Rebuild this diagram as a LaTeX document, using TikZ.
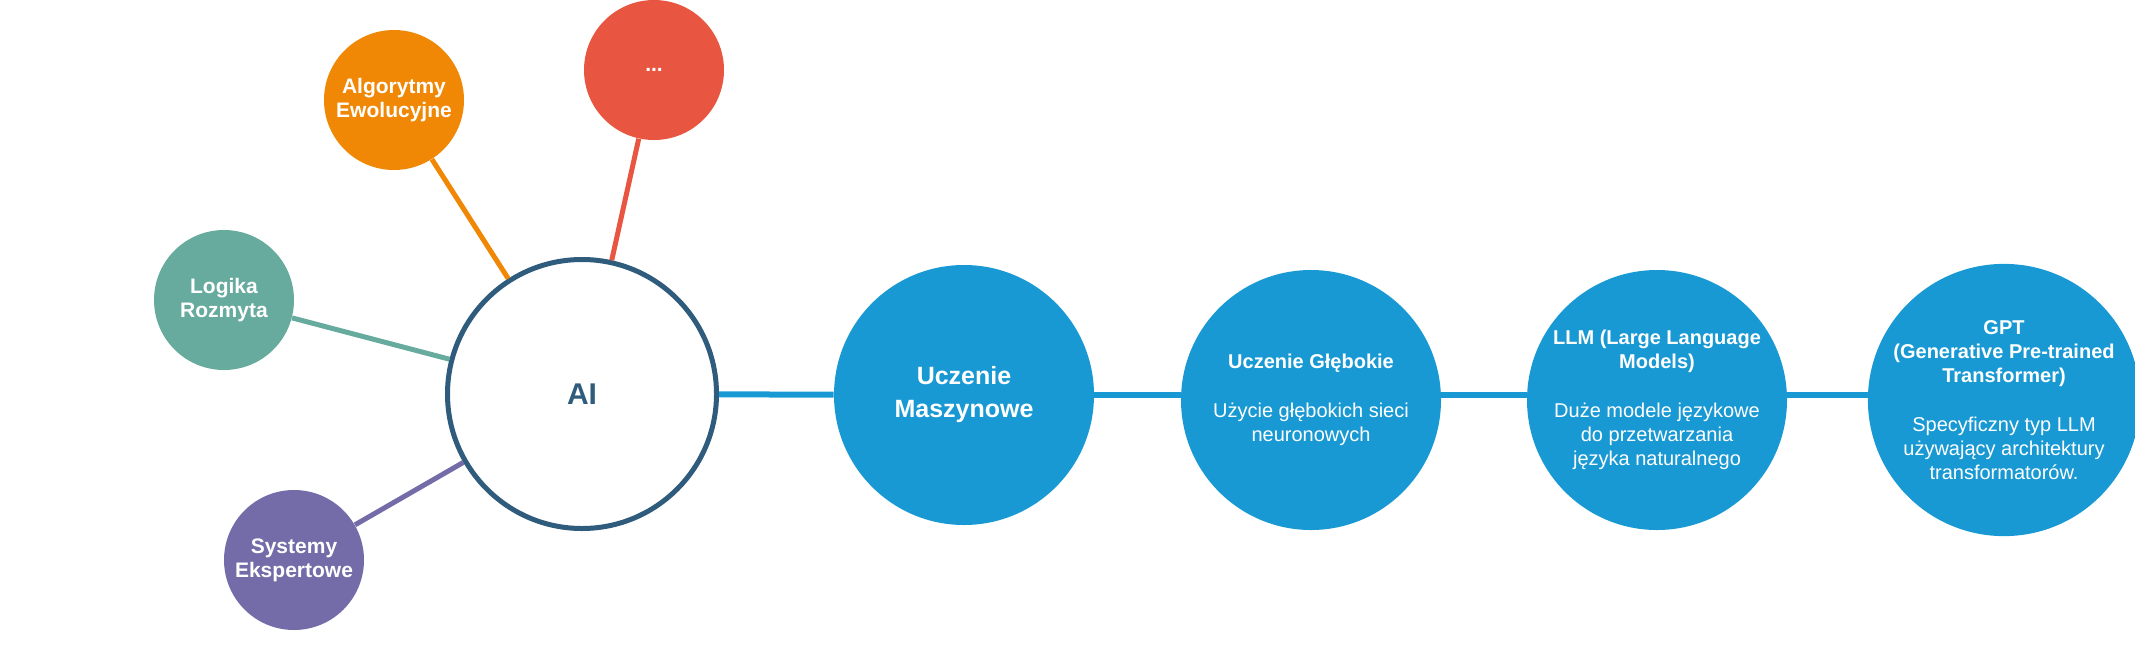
\documentclass[tikz,border=0pt]{standalone}
\usepackage{fontspec}
\setmainfont{Liberation Sans}
\definecolor{myblue}{HTML}{1899D3}
\definecolor{mynavy}{HTML}{2F5B7C}
\definecolor{myorange}{HTML}{F08705}
\definecolor{myred}{HTML}{E85642}
\definecolor{myteal}{HTML}{67AB9F}
\definecolor{mypurple}{HTML}{736CA8}

\begin{document}
\begin{tikzpicture}[x=0.5pt,y=-0.5pt]
\useasboundingbox (0,0) rectangle (2135,665);
\tikzset{SmallStyle/.style ={shape=circle, inner sep=0, minimum size=70pt, fill=#1, text=white, align=center, font=\fontsize{10.5}{12}\selectfont\bfseries}}
\tikzset{BigStyle/.style ={shape=circle, inner sep=0, minimum size=130pt, fill=myblue, text=white, align=center, font=\fontsize{10}{12}\selectfont}}
\node[shape=circle, inner sep=0, minimum size=134.5pt, draw=mynavy, line width=2.5pt, text=mynavy, font=\fontsize{15}{18}\selectfont\bfseries] (ai) at (582,394) {AI};
\node[SmallStyle=myorange] (evo) at (394,100) {Algorytmy\\Ewolucyjne};
\node[SmallStyle=myred] (etc) at (654,70) {...};
\node[SmallStyle=myteal] (fuzzy) at (224,300) {Logika\\Rozmyta};
\node[SmallStyle=mypurple] (expert) at (294,560) {Systemy\\Ekspertowe};
\node[BigStyle, font=\fontsize{12.5}{16.5}\selectfont\bfseries] (ml) at (964,395) {Uczenie\\Maszynowe};
\node[BigStyle] (dl) at (1311,400) {\textbf{Uczenie Głębokie}\\[12.5pt] Użycie głębokich sieci\\neuronowych};
\node[BigStyle] (llm) at (1657,400) {\textbf{LLM (Large Language}\\\textbf{Models)}\\[12.5pt] Duże modele językowe\\do przetwarzania\\języka naturalnego};
\node[BigStyle] (gpt) at (2004,400) {\textbf{GPT}\\\textbf{(Generative Pre-trained}\\\textbf{Transformer)}\\[12.5pt] Specyficzny typ LLM\\używający architektury\\transformatorów.};
\draw[line width=2.5pt, myorange] (evo) -- (ai);
\draw[line width=2.5pt, myred] (etc) -- (ai);
\draw[line width=2.5pt, myteal] (fuzzy) -- (ai);
\draw[line width=2.5pt, mypurple] (expert) -- (ai);
\tikzset{EdgeStyle/.style ={line width=3pt, myblue}}
\draw[EdgeStyle] (ai) -- (ml);
\draw[EdgeStyle] (ml) -- (dl.west |- ml);
\draw[EdgeStyle] (dl.east |- ml) -- (llm.west |- ml);
\draw[EdgeStyle] (llm.east |- ml) -- (gpt.west |- ml);
\end{tikzpicture}
\end{document}
